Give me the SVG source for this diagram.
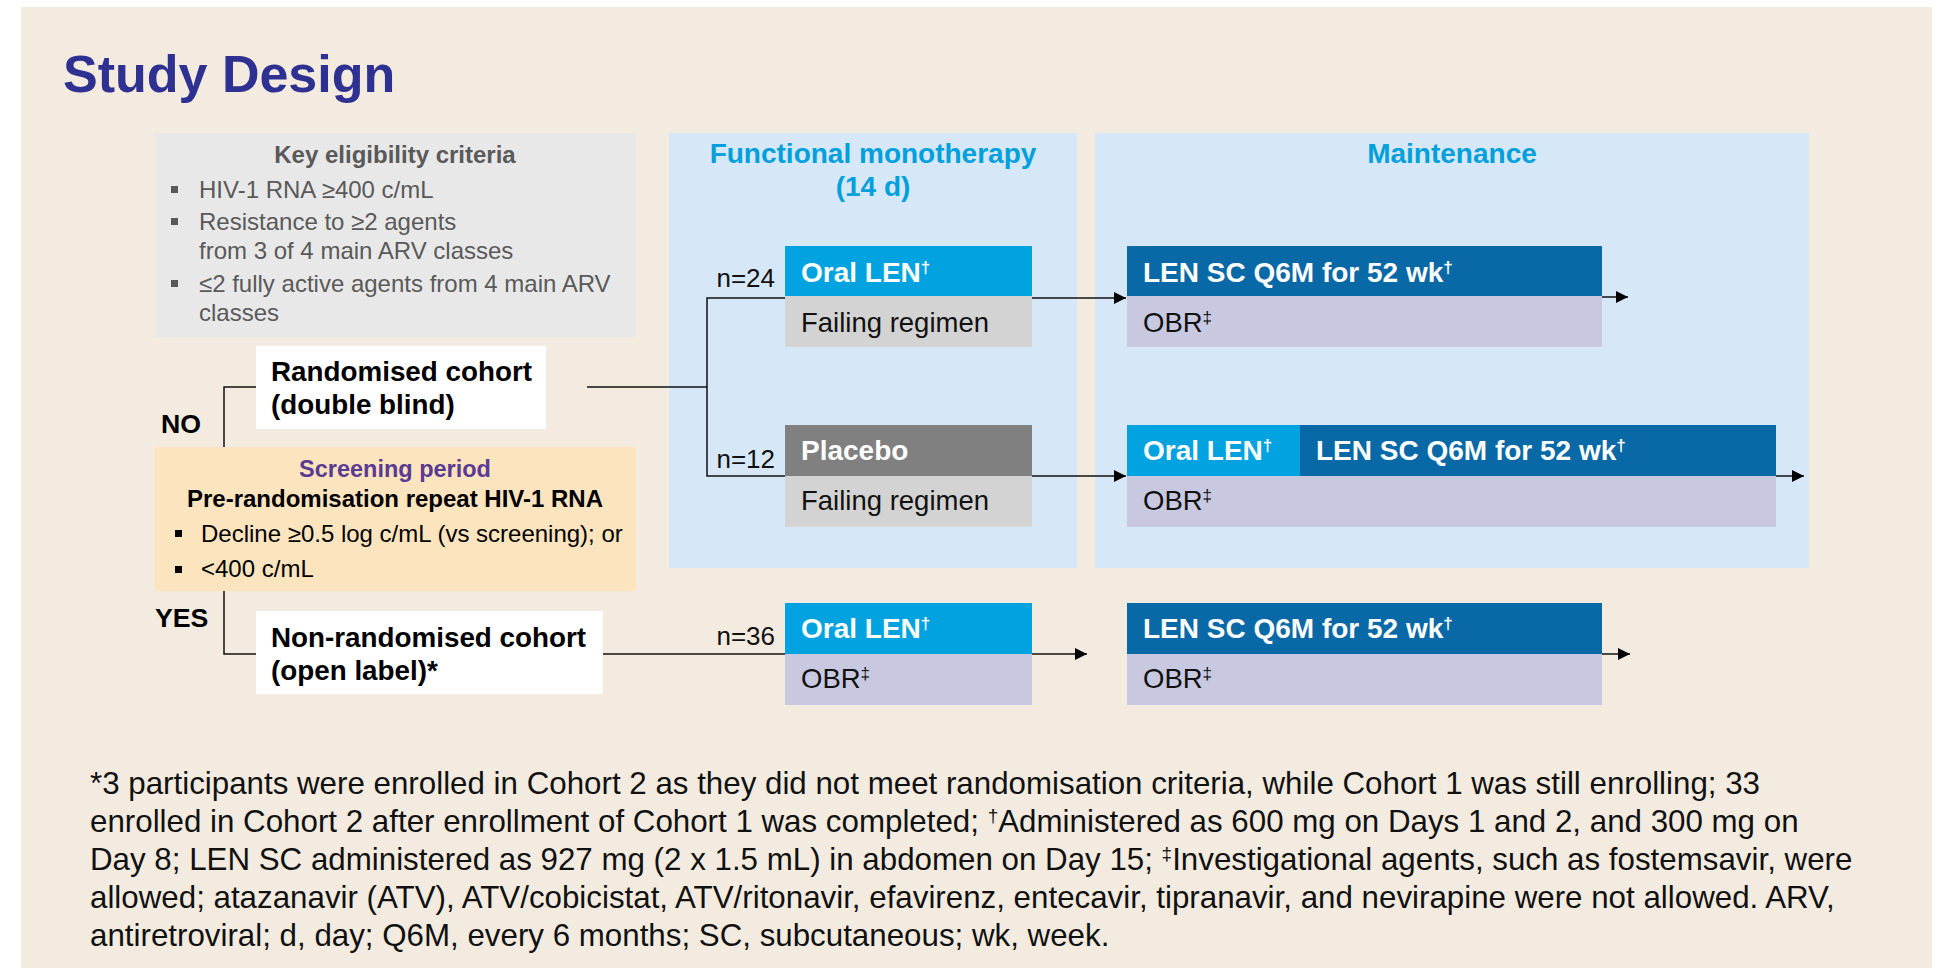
<svg xmlns="http://www.w3.org/2000/svg" width="1939" height="975" viewBox="0 0 1939 975">
<defs>
<style>
text{font-family:"Liberation Sans",Arial,sans-serif}
.b{font-weight:bold}
.wb{font-weight:bold;fill:#fff;font-size:28px}
.reg{font-size:27.5px;fill:#111}
.grey{fill:#595959;font-size:24px}
.blk{fill:#000;font-size:24px}
.hdr{font-weight:bold;fill:#00A0DC;font-size:28px}
.n{font-size:26px;fill:#111;text-anchor:end}
.fn{font-size:31.3px;fill:#111}
.ln{stroke:#111;stroke-width:1.5;fill:none}
</style>
<marker id="ah" markerUnits="userSpaceOnUse" markerWidth="13" markerHeight="13" refX="12" refY="6" orient="auto">
<path d="M0,0 L12,6 L0,12 Z" fill="#000"/>
</marker>
</defs>
<rect width="1939" height="975" fill="#fff"/>
<rect x="21" y="7" width="1911" height="961" fill="#F3EBDF"/>
<text x="63" y="92" class="b" font-size="52" fill="#2E3192">Study Design</text>

<g id="phase-fm">
<rect x="669" y="133" width="408" height="435" fill="#D6E8F8"/>
<text x="873" y="163" class="hdr" text-anchor="middle">Functional monotherapy</text>
<text x="873" y="196" class="hdr" text-anchor="middle">(14 d)</text>
</g>
<g id="phase-maint">
<rect x="1095" y="133" width="714" height="435" fill="#D6E8F8"/>
<text x="1452" y="163" class="hdr" text-anchor="middle">Maintenance</text>
</g>

<g id="eligibility">
<rect x="155" y="133" width="481" height="204" fill="#E8E8E8"/>
<text x="395" y="163" class="grey b" text-anchor="middle">Key eligibility criteria</text>
<rect x="171" y="186" width="7" height="7" fill="#595959"/>
<text x="199" y="198" class="grey">HIV-1 RNA ≥400 c/mL</text>
<rect x="171" y="218" width="7" height="7" fill="#595959"/>
<text x="199" y="230" class="grey">Resistance to ≥2 agents</text>
<text x="199" y="259" class="grey">from 3 of 4 main ARV classes</text>
<rect x="171" y="280" width="7" height="7" fill="#595959"/>
<text x="199" y="292" class="grey">≤2 fully active agents from 4 main ARV</text>
<text x="199" y="321" class="grey">classes</text>
</g>

<g id="screening">
<rect x="155" y="447" width="481" height="144" fill="#FCE4BE"/>
<text x="395" y="477" class="b" font-size="23.5" fill="#5B3A93" text-anchor="middle">Screening period</text>
<text x="395" y="507" class="blk b" text-anchor="middle">Pre-randomisation repeat HIV-1 RNA</text>
<rect x="175" y="530" width="7" height="7" fill="#000"/>
<text x="201" y="542" class="blk">Decline ≥0.5 log c/mL (vs screening); or</text>
<rect x="175" y="566" width="7" height="7" fill="#000"/>
<text x="201" y="577" class="blk">&lt;400 c/mL</text>
</g>

<g id="label-no"><text x="161" y="433" class="b" font-size="26.7" fill="#000">NO</text></g>
<g id="label-yes"><text x="155" y="627" class="b" font-size="26.7" fill="#000">YES</text></g>

<g id="randomised">
<rect x="256" y="346" width="290" height="83" fill="#fff"/>
<text x="271" y="381" class="b" font-size="27.8" fill="#000">Randomised cohort</text>
<text x="271" y="414" class="b" font-size="27.8" fill="#000">(double blind)</text>
</g>
<g id="nonrandomised">
<rect x="256" y="611" width="347" height="83" fill="#fff"/>
<text x="271" y="647" class="b" font-size="27.8" fill="#000">Non-randomised cohort</text>
<text x="271" y="680" class="b" font-size="27.8" fill="#000">(open label)*</text>
</g>

<g id="connectors">
<path class="ln" d="M256,387 H224 V447"/>
<path class="ln" d="M224,591 V654 H256"/>
<path class="ln" d="M587,387 H707"/>
<path class="ln" d="M786,298 H707 V476 H786"/>
<path class="ln" d="M603,654 H786"/>
<path class="ln" d="M1032,298 H1126" marker-end="url(#ah)"/>
<path class="ln" d="M1032,476 H1126" marker-end="url(#ah)"/>
<path class="ln" d="M1032,654 H1087" marker-end="url(#ah)"/>
<path class="ln" d="M1602,297 H1628" marker-end="url(#ah)"/>
<path class="ln" d="M1776,476 H1804" marker-end="url(#ah)"/>
<path class="ln" d="M1602,654 H1630" marker-end="url(#ah)"/>
</g>

<g id="n-labels">
<text x="775" y="287" class="n">n=24</text>
<text x="775" y="468" class="n">n=12</text>
<text x="775" y="645" class="n">n=36</text>
</g>

<g id="arm-oral-len">
<rect x="785" y="246" width="247" height="50" fill="#00A3E0"/>
<rect x="785" y="296" width="247" height="51" fill="#D3D3D3"/>
<text x="801" y="282" class="wb">Oral LEN<tspan font-size="17" dy="-9">†</tspan></text>
<text x="801" y="332" class="reg">Failing regimen</text>
</g>
<g id="arm-placebo">
<rect x="785" y="425" width="247" height="51" fill="#808080"/>
<rect x="785" y="476" width="247" height="51" fill="#D3D3D3"/>
<text x="801" y="460" class="wb">Placebo</text>
<text x="801" y="510" class="reg">Failing regimen</text>
</g>
<g id="arm-open-oral">
<rect x="785" y="603" width="247" height="51" fill="#00A3E0"/>
<rect x="785" y="654" width="247" height="51" fill="#C8C8E0"/>
<text x="801" y="638" class="wb">Oral LEN<tspan font-size="17" dy="-9">†</tspan></text>
<text x="801" y="688" class="reg">OBR<tspan font-size="17" dy="-9">‡</tspan></text>
</g>
<g id="maint-top">
<rect x="1127" y="246" width="475" height="50" fill="#0869A6"/>
<rect x="1127" y="296" width="475" height="51" fill="#C8C8E0"/>
<text x="1143" y="282" class="wb">LEN SC Q6M for 52 wk<tspan font-size="17" dy="-9">†</tspan></text>
<text x="1143" y="332" class="reg">OBR<tspan font-size="17" dy="-9">‡</tspan></text>
</g>
<g id="maint-mid">
<rect x="1127" y="425" width="649" height="51" fill="#0869A6"/>
<rect x="1127" y="425" width="173" height="51" fill="#00A3E0"/>
<rect x="1127" y="476" width="649" height="51" fill="#C8C8E0"/>
<text x="1143" y="460" class="wb">Oral LEN<tspan font-size="17" dy="-9">†</tspan></text>
<text x="1316" y="460" class="wb">LEN SC Q6M for 52 wk<tspan font-size="17" dy="-9">†</tspan></text>
<text x="1143" y="510" class="reg">OBR<tspan font-size="17" dy="-9">‡</tspan></text>
</g>
<g id="maint-bottom">
<rect x="1127" y="603" width="475" height="51" fill="#0869A6"/>
<rect x="1127" y="654" width="475" height="51" fill="#C8C8E0"/>
<text x="1143" y="638" class="wb">LEN SC Q6M for 52 wk<tspan font-size="17" dy="-9">†</tspan></text>
<text x="1143" y="688" class="reg">OBR<tspan font-size="17" dy="-9">‡</tspan></text>
</g>

<g id="footnote">
<text x="90" y="794" class="fn">*3 participants were enrolled in Cohort 2 as they did not meet randomisation criteria, while Cohort 1 was still enrolling; 33</text>
<text x="90" y="832" class="fn">enrolled in Cohort 2 after enrollment of Cohort 1 was completed; <tspan font-size="19" dy="-10">†</tspan><tspan dy="10">Administered as 600 mg on Days 1 and 2, and 300 mg on</tspan></text>
<text x="90" y="870" class="fn">Day 8; LEN SC administered as 927 mg (2 x 1.5 mL) in abdomen on Day 15; <tspan font-size="19" dy="-10">‡</tspan><tspan dy="10">Investigational agents, such as fostemsavir, were</tspan></text>
<text x="90" y="908" class="fn">allowed; atazanavir (ATV), ATV/cobicistat, ATV/ritonavir, efavirenz, entecavir, tipranavir, and nevirapine were not allowed. ARV,</text>
<text x="90" y="946" class="fn">antiretroviral; d, day; Q6M, every 6 months; SC, subcutaneous; wk, week.</text>
</g>
</svg>
